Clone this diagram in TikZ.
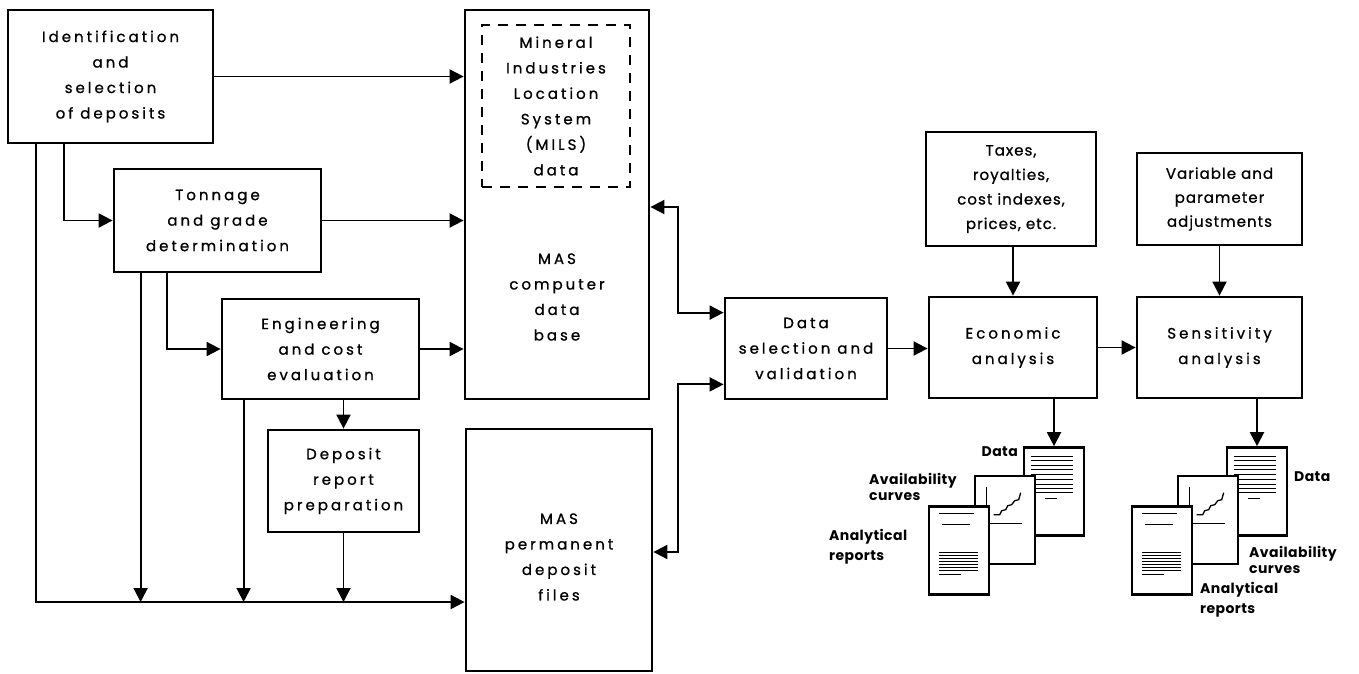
\documentclass[tikz,border=0pt]{standalone}
\usepackage{fontspec}
\setmainfont{Poppins}[LetterSpace=20, FakeBold=0.9]
\newfontfamily\tightfont{Poppins}[LetterSpace=7, FakeBold=0.9]
\newfontfamily\labfont{Poppins}[LetterSpace=3]
\usetikzlibrary{arrows.meta}

\tikzset{
        box/.style={draw, line width=2.8pt, fill=white, align=center, inner sep=0pt,
                font=\fontsize{15}{25.5}\selectfont},
        txt/.style={align=center, inner sep=0pt, font=\fontsize{15}{25.5}\selectfont},
        arr/.style={line width=1.9pt, -{Triangle[length=14pt,width=14pt]}},
        dbl/.style={line width=1.9pt, {Triangle[length=14pt,width=14pt]}-{Triangle[length=14pt,width=14pt]}},
        doc/.style={draw, line width=2.6pt, fill=white, minimum width=60pt, minimum height=88pt, inner sep=0pt},
        docline/.style={line width=1.3pt},
        lab/.style={inner sep=0pt, font=\labfont\bfseries\fontsize{14}{16}\selectfont}
}

\begin{document}
\begin{tikzpicture}[x=1pt, y=-1pt]
        \useasboundingbox (0,0) rectangle (1359,673);

        \node[box, minimum width=205pt, minimum height=133pt] (ident) at (110.5,76.5) {Identification\\and\\selection\\of deposits};
        \node[box, minimum width=207pt, minimum height=103pt] (tonnage) at (217.5,220.5) {Tonnage\\and grade\\determination};
        \node[box, minimum width=197pt, minimum height=100pt] (engin) at (320.5,349) {Engineering\\and cost\\evaluation};
        \node[box, minimum width=151pt, minimum height=102pt] (report) at (343.5,481) {Deposit\\report\\preparation};

        \node[box, minimum width=184pt, minimum height=389pt] (dbase) at (557,204.5) {};
        \node[box, dash pattern=on 10pt off 8pt, minimum width=148pt, minimum height=162pt] (mils) at (556,106) {Mineral\\Industries\\Location\\System\\(MILS)\\data};
        \node[txt] (dbasetxt) at (557,297) {MAS\\computer\\data\\base};
        \node[box, minimum width=186pt, minimum height=242pt] (files) at (559,550) {};
        \node[txt] (filestxt) at (559,557) {MAS\\permanent\\deposit\\files};

        \node[box, minimum width=162pt, minimum height=101pt] (datasel) at (806,348.5) {Data\\selection and\\validation};
        \node[box, minimum width=170pt, minimum height=114pt, font=\tightfont\fontsize{15}{24.5}\selectfont] (taxes) at (1011,189) {Taxes,\\royalties,\\cost indexes,\\prices, etc.};
        \node[box, minimum width=165pt, minimum height=92pt, font=\tightfont\fontsize{15}{24}\selectfont] (adjust) at (1219.5,199) {Variable and\\parameter\\adjustments};
        \node[box, minimum width=168pt, minimum height=101pt] (econ) at (1013,347.5) {Economic\\analysis};
        \node[box, minimum width=165pt, minimum height=101pt] (sens) at (1219.5,347.5) {Sensitivity\\analysis};

        \coordinate (bus) at (0,602);
        \coordinate (tdrop) at ([xshift=28pt]tonnage.south west);
        \coordinate (edrop) at ([xshift=23pt]engin.south west);
        \coordinate (up) at (678,207);
        \coordinate (down) at (678,552);

        \draw[arr] (ident.east) -- (ident.east -| dbase.west);
        \draw[arr] ([xshift=57pt]ident.south west) |- (tonnage.west);
        \draw[arr] ([xshift=29pt]ident.south west) |- (bus -| files.west);
        \draw[arr] (tonnage.east) -- (tonnage.east -| dbase.west);
        \draw[arr] ([xshift=54pt]tonnage.south west) |- (engin.west);
        \draw[arr] (tdrop) -- (tdrop |- bus);
        \draw[arr] (engin.east) -- (engin.east -| dbase.west);
        \draw[arr] (edrop) -- (edrop |- bus);
        \draw[arr] (engin.south -| report.north) -- (report.north);
        \draw[arr] (report.south) -- (report.south |- bus);

        \draw[dbl] ([yshift=-16pt]datasel.north west) -| (up) -- (up -| dbase.east);
        \draw[dbl] ([yshift=16pt]datasel.south west) -| (down) -- (down -| files.east);

        \draw[arr] (datasel.east) -- (datasel.east -| econ.west);
        \draw[arr] (econ.east) -- (econ.east -| sens.west);
        \draw[arr] (taxes.south -| econ.north) -- (econ.north);
        \draw[arr] (adjust.south -| sens.north) -- (sens.north);

        \foreach \s/\dx in {e/1054, s/1257} {
                \node[doc] (\s-data) at (\dx,491.5) {};
                \begin{scope}[shift={(\s-data.north west)}]
                        \foreach \y in {10,14,19,23,28,33,38,42,46}
                                \draw[docline] (8,\y) -- (50,\y);
                        \draw[docline] (22,52) -- (34,52);
                \end{scope}

                \node[doc] (\s-curve) at (\dx-49,520) {};
                \begin{scope}[shift={(\s-curve.north west)}]
                        \draw[docline] (13,12) -- (13,49) -- (48,49);
                        \draw[docline] (20,40) -- (26,40) -- (28,36) -- (32,35) -- (34,31) -- (38,30) -- (41,26) -- (45,25) -- (47,18);
                \end{scope}

                \node[doc] (\s-rep) at (\dx-95,550.5) {};
                \begin{scope}[shift={(\s-rep.north west)}]
                        \draw[docline] (11,8) -- (46,8);
                        \draw[docline] (14,19) -- (42,19);
                        \foreach \y in {47,50,...,65}
                                \draw[docline] (11,\y) -- (50,\y);
                        \draw[docline] (11,69) -- (33,69);
                \end{scope}
        }

        \draw[arr] (econ.south -| e-data.north) -- (e-data.north);
        \draw[arr] (sens.south -| s-data.north) -- (s-data.north);

        \node[lab, anchor=east] (edatalab) at (1018,452) {Data};
        \node[lab, anchor=west, align=left] (ecurvelab) at (869,487) {Availability\\curves};
        \node[lab, anchor=west, align=left] (ereplab) at (829,547) {Analytical\\[4pt]reports};
        \node[lab, anchor=west] (sdatalab) at (1294,477) {Data};
        \node[lab, anchor=west, align=left] (scurvelab) at (1249,560) {Availability\\curves};
        \node[lab, anchor=west, align=left] (sreplab) at (1200,600) {Analytical\\[4pt]reports};

\end{tikzpicture}
\end{document}
